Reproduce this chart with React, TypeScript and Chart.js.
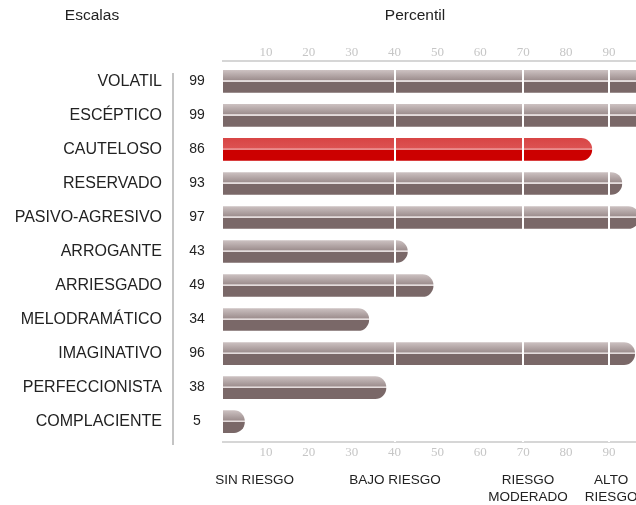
import { useEffect, useRef } from 'react';
import { Chart, registerables } from 'chart.js';

Chart.register(...registerables);

const categories = [
  'VOLATIL',
  'ESCÉPTICO',
  'CAUTELOSO',
  'RESERVADO',
  'PASIVO-AGRESIVO',
  'ARROGANTE',
  'ARRIESGADO',
  'MELODRAMÁTICO',
  'IMAGINATIVO',
  'PERFECCIONISTA',
  'COMPLACIENTE',
];
const percentiles = [99, 99, 86, 93, 97, 43, 49, 34, 96, 38, 5];
const highlightIndex = 2;
const xTicks = [10, 20, 30, 40, 50, 60, 70, 80, 90];
const zoneBoundaries = [40, 70, 90];
const riskLabels: string[][] = [['SIN RIESGO'], ['BAJO RIESGO'], ['RIESGO', 'MODERADO'], ['ALTO', 'RIESGO']];
const riskLabelAt = [7.4, 40.1, 71.1, 90.5];
const scaleTitle = 'Escalas';
const percentTitle = 'Percentil';

const SANS = '"Liberation Sans", Arial, Helvetica, sans-serif';
const SERIF = '"Liberation Serif", "Times New Roman", serif';

export default function App() {
  const ref = useRef<HTMLCanvasElement | null>(null);

  useEffect(() => {
    if (!ref.current) return;

    const overlay = {
      id: 'overlay',
      afterDraw(chart: any) {
        const c = chart.ctx;
        const ys = chart.scales.y;
        const xs = chart.scales.x;
        c.save();
        // vertical separator
        c.strokeStyle = '#c4c4c4';
        c.lineWidth = 2;
        c.beginPath();
        c.moveTo(173, 73);
        c.lineTo(173, 445);
        c.stroke();
        c.fillStyle = '#222';
        c.textBaseline = 'middle';
        // category labels
        c.font = `16px ${SANS}`;
        c.textAlign = 'right';
        categories.forEach((t, i) => {
          c.fillText(t, 162, ys.getPixelForValue(i));
        });
        // values
        c.font = `14px ${SANS}`;
        c.textAlign = 'center';
        percentiles.forEach((v, i) => {
          c.fillText(String(v), 197, ys.getPixelForValue(i));
        });
        // headers
        c.font = `15.5px ${SANS}`;
        c.fillText(scaleTitle, 92, 16);
        c.fillText(percentTitle, 415, 16);
        // risk labels
        c.font = `13.5px ${SANS}`;
        riskLabels.forEach((lines, i) => {
          const px = xs.getPixelForValue(riskLabelAt[i]);
          lines.forEach((t, j) => c.fillText(t, px, 480 + j * 17.5));
        });
        c.restore();
      },
    };

    const makeFill = (ctx: any) => {
      const chart = ctx.chart;
      const ys = chart.scales?.y;
      const red = ctx.dataIndex === highlightIndex;
      if (!ys || !chart.chartArea) return red ? '#cc0000' : '#7a6868';
      const yc = ys.getPixelForValue(ctx.dataIndex);
      const top = yc - 11;
      const bot = yc + 11;
      const g = chart.ctx.createLinearGradient(0, top, 0, bot);
      if (red) {
        g.addColorStop(0, '#d84545');
        g.addColorStop(0.44, '#dc5252');
        g.addColorStop(0.46, '#ea8c8c');
        g.addColorStop(0.52, '#ea8c8c');
        g.addColorStop(0.54, '#cc0000');
        g.addColorStop(1, '#cc0000');
      } else {
        g.addColorStop(0, '#cbc0c0');
        g.addColorStop(0.44, '#9d8e8e');
        g.addColorStop(0.46, '#e4dcdc');
        g.addColorStop(0.52, '#e4dcdc');
        g.addColorStop(0.54, '#7a6868');
        g.addColorStop(1, '#7a6868');
      }
      return g;
    };

    const setTicks = (s: any) => {
      s.ticks = xTicks.map((v) => ({ value: v }));
    };

    const chart = new Chart(ref.current, {
      type: 'bar',
      data: {
        datasets: [
          {
            data: percentiles.map((v, i) => ({ x: v, y: i })),
            backgroundColor: makeFill as any,
            borderWidth: 0,
            borderRadius: { topLeft: 0, bottomLeft: 0, topRight: 11, bottomRight: 11 },
            borderSkipped: 'start',
            barThickness: 22,
            xAxisID: 'x',
            yAxisID: 'y',
          } as any,
        ],
      },
      options: {
        indexAxis: 'y',
        animation: false,
        responsive: false,
        maintainAspectRatio: false,
        events: [],
        layout: { padding: 0 },
        plugins: { legend: { display: false }, tooltip: { enabled: false } },
        scales: {
          x: {
            type: 'linear',
            position: 'bottom',
            min: 0,
            max: 96.3,
            afterBuildTicks: setTicks,
            afterFit: (s: any) => {
              s.height = 63;
            },
            grid: { display: false, drawTicks: false },
            border: { display: true, color: '#d6d6d6', width: 2 },
            ticks: {
              color: '#c6c6c6',
              font: { family: SERIF, size: 13 },
              padding: 3,
              autoSkip: false,
              maxRotation: 0,
            },
          },
          x2: {
            type: 'linear',
            position: 'top',
            min: 0,
            max: 96.3,
            afterBuildTicks: setTicks,
            afterFit: (s: any) => {
              s.height = 61;
            },
            grid: {
              display: true,
              drawTicks: false,
              drawOnChartArea: true,
              z: 1,
              lineWidth: 2,
              color: (ctx: any) =>
                ctx.tick && zoneBoundaries.includes(ctx.tick.value) ? '#ffffff' : 'rgba(0,0,0,0)',
            },
            border: { display: true, color: '#d6d6d6', width: 2, z: 1 },
            ticks: {
              color: '#c6c6c6',
              font: { family: SERIF, size: 13 },
              padding: 1,
              autoSkip: false,
              maxRotation: 0,
            },
          },
          y: {
            type: 'linear',
            position: 'left',
            reverse: true,
            offset: false,
            min: -0.6,
            max: 10.6,
            afterBuildTicks: (s: any) => {
              s.ticks = categories.map((_, i) => ({ value: i }));
            },
            afterFit: (s: any) => {
              s.width = 223;
            },
            grid: { display: false, drawTicks: false, offset: false },
            border: { display: false },
            ticks: { display: false },
          },
        },
      },
      plugins: [overlay],
    });

    return () => chart.destroy();
  }, []);

  return (
    <div style={{ position: 'absolute', left: 0, top: 0, width: 636, height: 505, background: '#fff' }}>
      <canvas ref={ref} width={636} height={505} style={{ display: 'block', width: 636, height: 505 }} />
    </div>
  );
}
